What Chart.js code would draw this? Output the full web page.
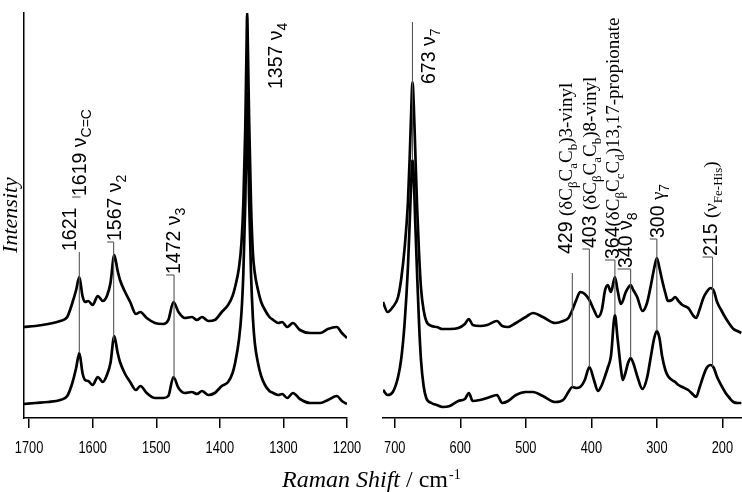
<!DOCTYPE html>
<html>
<head>
<meta charset="utf-8">
<script src="https://cdn.jsdelivr.net/npm/chart.js@4.4.1/dist/chart.umd.min.js"></script>
<style>
  html, body { margin: 0; padding: 0; background: #fff; }
  #wrap { position: relative; width: 742px; height: 492px; overflow: hidden; }
  canvas { position: absolute; top: 0; }
  #xtitle { position: absolute; left: 282px; top: 467px; font: 24px "Liberation Serif", "Times New Roman", serif; line-height: 24px; white-space: nowrap; color: #000; }
  #xtitle sup { position: relative; top: -4px; font-size: 14px; vertical-align: top; margin-left: 1px; }
</style>
</head>
<body>
<div id="wrap">
  <canvas id="cl" width="370" height="492" style="left:0px"></canvas>
  <canvas id="cr" width="372" height="492" style="left:370px"></canvas>
  <div id="xtitle"><i>Raman Shift</i> / cm<sup>-1</sup></div>
</div>
<script>
// ---------- data (intensity in arbitrary units) ----------
const leftShift = [1708,1690,1670,1651,1640,1632,1626,1621,1616,1612,1607,1600,1592,1584,1577,1572,1566,1561,1557,1549,1541,1532,1525,1515,1502,1489,1481,1473,1465,1455,1444,1436,1428,1418,1408,1397,1387,1380,1376,1370,1366,1363,1360,1358,1357,1356,1354,1351,1348,1345,1340,1335,1329,1322,1316,1308,1302,1294,1285,1274,1258,1242,1230,1216,1208,1200];
const leftUpper = [91,92,94,97,101,115,128,141,122,116,117,113,122,117,123,135,163,148,138,126,116,104,106,100,95,94,98,116,106,100,101,98,101,97,98,106,113,122,131,150,175,215,290,370,405,375,300,215,165,145,128,116,108,101,98,95,96,91,95,88,85,85,89,91,85,80];
const leftLower = [14,15,16,18,22,35,50,65,45,38,37,33,41,36,44,55,82,66,56,44,36,28,32,25,20,20,22,41,30,25,26,24,27,23,25,32,36,45,55,78,105,145,215,290,325,295,220,145,100,75,55,42,33,27,25,23,24,20,25,19,15,15,18,22,17,14];

const rightShift = [718,711,703,695,690,685,680,677,675,673,671,669,666,663,660,656,652,644,636,627,616,603,593,587,581,570,559,544,536,527,515,500,489,474,455,443,435,429,423,417,410,403,396,390,384,379,375,370,364,360,355,352,348,344,340,336,330,322,315,309,304,300,296,292,287,283,277,272,267,261,252,244,240,235,229,224,218,213,208,201,195,189,183,177,171];
const rightUpper = [116,106,111,121,140,170,215,265,305,336,312,272,212,165,130,108,97,92,91,89,89,90,94,99,93,92,93,97,92,91,95,101,105,101,95,97,100,108,118,126,124,118,108,101,108,128,133,126,141,128,114,117,125,130,133,128,121,107,115,133,150,160,150,138,125,117,118,121,117,113,110,102,100,108,120,126,130,127,116,107,100,94,89,87,85];
const rightLower = [28,23,26,41,60,95,150,200,235,258,240,200,145,95,58,32,20,15,13,11,12,17,19,25,17,18,20,23,15,17,23,26,26,22,16,18,26,31,30,31,38,51,38,27,33,42,50,62,103,80,50,38,45,55,60,55,42,29,40,62,80,87,80,62,48,42,38,36,33,31,28,23,21,30,42,50,53,50,41,32,25,20,16,15,15];

const leftTicks = [1700,1600,1500,1400,1300,1200];
const rightTicks = [700,600,500,400,300,200];

// peak labels: wavenumber + text segments (s = sans, S = sans subscript, r = serif, R = serif subscript)
const leftMarks = [1621, 1619, 1567, 1472, 1357];
const leftMarkText = [
  [["1621","s"]],
  [["1619 ν","s"],["C=C","S"]],
  [["1567 ν","s"],["2","S"]],
  [["1472 ν","s"],["3","S"]],
  [["1357 ν","s"],["4","S"]]
];
const rightMarks = [673, 429, 403, 364, 340, 300, 215];
const rightMarkText = [
  [["673 ν","s"],["7","S"]],
  [["429 ","s"],["(δC","r"],["β","R"],["C","r"],["a","R"],["C","r"],["b","R"],[")3-vinyl","r"]],
  [["403 ","s"],["(δC","r"],["β","R"],["C","r"],["a","R"],["C","r"],["b","R"],[")8-vinyl","r"]],
  [["364","s"],["(δC","r"],["β","R"],["C","r"],["c","R"],["C","r"],["d","R"],[")13,17-propionate","r"]],
  [["340 ν","s"],["8","S"]],
  [["300 ","s"],["γ","r"],["7","S"]],
  [["215 ","s"],["(ν","r"],["Fe-His","R"],[")","r"]]
];

// ---------- label layout (placement only) ----------
const leftLayout = [
  {dx:-3,  a:166, top:166, dash:false},
  {dx:5.5, a:221, top:null, dash:true},
  {dx:7.5, a:176, top:176, dash:true},
  {dx:6,   a:143, top:143, dash:true},
  {dx:35,  a:328, top:null, dash:false}
];
const rightLayout = [
  {dx:23, a:333, top:396, dash:false},
  {dx:0,  a:163, top:145, dash:false},
  {dx:7,  a:169, top:169, dash:true},
  {dx:4,  a:158, top:158, dash:true},
  {dx:1,  a:149, top:149, dash:true},
  {dx:7,  a:179, top:179, dash:true},
  {dx:4,  a:161, top:161, dash:true}
];

const SANS = '"Liberation Sans", Arial, sans-serif';
const SERIF = '"Liberation Serif", "Times New Roman", serif';
const fontFor = {s:[19.5,SANS,0], S:[14,SANS,5], r:[19,SERIF,0], R:[13,SERIF,5]};
const CAP = 14;

function interp(xs, ys, x) {
  for (let i = 0; i < xs.length - 1; i++) {
    const a = xs[i], b = xs[i+1];
    if ((x <= a && x >= b) || (x >= a && x <= b)) {
      const t = (x - a) / (b - a || 1);
      return ys[i] + t * (ys[i+1] - ys[i]);
    }
  }
  return ys[ys.length-1];
}

function drawRich(ctx, segs, x, y) {
  ctx.save();
  ctx.translate(x, y);
  ctx.rotate(-Math.PI / 2);
  ctx.textBaseline = 'alphabetic';
  ctx.textAlign = 'left';
  ctx.fillStyle = '#000';
  let cx = 0;
  for (const [t, k] of segs) {
    const [sz, fam, off] = fontFor[k];
    ctx.font = sz + 'px ' + fam;
    ctx.fillText(t, cx, off);
    cx += ctx.measureText(t).width;
  }
  ctx.restore();
}

function markPlugin(marks, texts, layout, shifts, lower, withYTitle) {
  return {
    id: 'marks',
    afterDatasetsDraw(chart) {
      const ctx = chart.ctx, xs = chart.scales.x, ys = chart.scales.y;
      ctx.save();
      marks.forEach((w, i) => {
        const L = layout[i];
        const lx = xs.getPixelForValue(w);
        const ay = ys.getPixelForValue(L.a);
        ctx.strokeStyle = '#555';
        ctx.lineWidth = 1.1;
        if (L.top !== null) {
          const yb = ys.getPixelForValue(interp(shifts, lower, w));
          ctx.beginPath();
          ctx.moveTo(lx, ys.getPixelForValue(L.top));
          ctx.lineTo(lx, yb);
          ctx.stroke();
        }
        const bx = lx + L.dx;
        if (L.dash) {
          ctx.beginPath();
          ctx.moveTo(bx - CAP, ay);
          ctx.lineTo(lx, ay);
          ctx.stroke();
        }
        drawRich(ctx, texts[i], bx, ay - 1);
      });
      // condensed tick labels
      ctx.fillStyle = '#000';
      ctx.font = '16px ' + SANS;
      ctx.textAlign = 'center';
      ctx.textBaseline = 'alphabetic';
      xs.ticks.forEach(t => {
        const px = xs.getPixelForValue(t.value);
        ctx.save();
        ctx.translate(px, 453);
        ctx.scale(0.8, 1);
        ctx.fillText(String(t.value), 0, 0);
        ctx.restore();
      });
      if (withYTitle) {
        ctx.save();
        ctx.translate(17, 215);
        ctx.rotate(-Math.PI / 2);
        ctx.font = 'italic 22px ' + SERIF;
        ctx.textAlign = 'center';
        ctx.textBaseline = 'alphabetic';
        ctx.fillStyle = '#000';
        ctx.fillText('Intensity', 0, 0);
        ctx.restore();
      }
      ctx.restore();
    }
  };
}

function makeChart(id, shifts, upper, lower, ticks, xmin, xmax, pad, showY, plugin) {
  const ds = (arr) => ({
    data: arr.map((v, i) => ({x: shifts[i], y: v})),
    borderColor: '#000',
    borderWidth: 2.7,
    pointRadius: 0,
    fill: false,
    cubicInterpolationMode: 'monotone'
  });
  return new Chart(document.getElementById(id), {
    type: 'line',
    data: { datasets: [ds(upper), ds(lower)] },
    options: {
      responsive: false,
      animation: false,
      devicePixelRatio: 1,
      layout: { padding: pad },
      plugins: { legend: {display: false}, tooltip: {enabled: false} },
      scales: {
        x: {
          type: 'linear', reverse: true, min: xmin, max: xmax,
          afterBuildTicks: s => { s.ticks = ticks.map(v => ({value: v})); },
          afterFit: s => { s.height = 74; },
          border: { display: true, color: '#000', width: 1.5 },
          grid: { display: true, drawOnChartArea: false, drawTicks: true, tickLength: 10, color: '#000', lineWidth: 1.5 },
          ticks: { display: false }
        },
        y: {
          type: 'linear', min: 0, max: 405, display: showY,
          afterFit: s => { s.width = 0; },
          border: { display: true, color: '#000', width: 1.5 },
          grid: { display: false },
          ticks: { display: false }
        }
      }
    },
    plugins: [plugin]
  });
}

makeChart('cl', leftShift, leftUpper, leftLower, leftTicks, 1200, 1708,
  {left: 24, top: 13, right: 23, bottom: 0}, true,
  markPlugin(leftMarks, leftMarkText, leftLayout, leftShift, leftLower, true));
makeChart('cr', rightShift, rightUpper, rightLower, rightTicks, 170, 718,
  {left: 13, top: 13, right: 0, bottom: 0}, false,
  markPlugin(rightMarks, rightMarkText, rightLayout, rightShift, rightLower, false));
</script>
</body>
</html>
